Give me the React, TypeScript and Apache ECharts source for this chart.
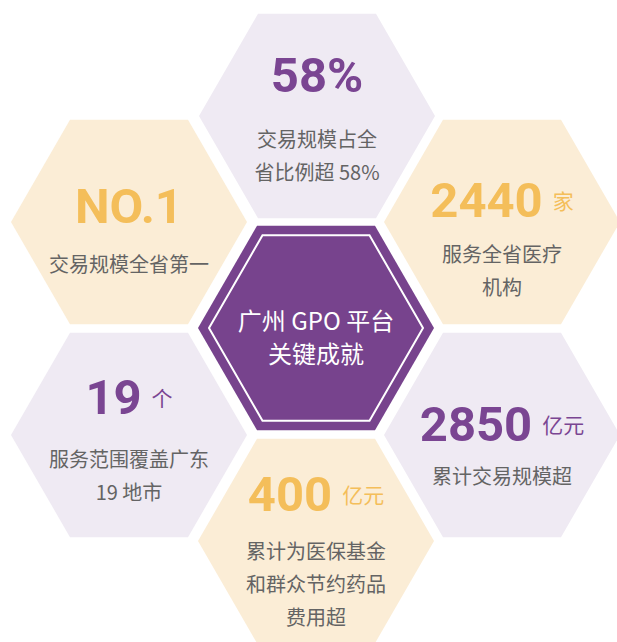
import React, { useEffect, useRef } from "react";
import * as echarts from "echarts";

// ---- data ----
const values = ["58%", "NO.1", "2440", "19", "2850", "400"];
const units = ["", "", "家", "个", "亿元", "亿元"];
const descriptions = [
  "交易规模占全\n省比例超 58%",
  "交易规模全省第一",
  "服务全省医疗\n机构",
  "服务范围覆盖广东\n19 地市",
  "累计交易规模超",
  "累计为医保基金\n和群众节约药品\n费用超",
];
const themes = ["purple", "yellow", "yellow", "purple", "purple", "yellow"];
const centerTitle = "广州 GPO 平台\n关键成就";

// ---- layout (honeycomb slots) ----
const slots = [
  { cx: 317, cy: 116, numDy: -41, descDy: 22 },
  { cx: 129, cy: 222, numDy: -16, descDy: 41 },
  { cx: 502, cy: 222, numDy: -22, descDy: 31 },
  { cx: 129, cy: 435, numDy: -38, descDy: 23 },
  { cx: 502, cy: 435, numDy: -11, descDy: 40 },
  { cx: 316, cy: 541, numDy: -47, descDy: 9 },
];
const CENTER = { cx: 316, cy: 328 };
const R = 118;

const palette: Record<string, { bg: string; fg: string }> = {
  purple: { bg: "#EFEAF3", fg: "#7A4592" },
  yellow: { bg: "#FBEDD6", fg: "#F4BE5A" },
};

function hexPoints(cx: number, cy: number, r: number): number[][] {
  const h = (r * Math.sqrt(3)) / 2;
  return [
    [cx - r, cy],
    [cx - r / 2, cy - h],
    [cx + r / 2, cy - h],
    [cx + r, cy],
    [cx + r / 2, cy + h],
    [cx - r / 2, cy + h],
  ];
}

const CJK = '"Noto Sans CJK SC", "Noto Sans", sans-serif';

export default function App() {
  const ref = useRef<HTMLDivElement>(null);
  useEffect(() => {
    if (!ref.current) return;
    const chart = echarts.init(ref.current, undefined, { renderer: "svg" });
    const elements: any[] = [];
    slots.forEach((s, i) => {
      const c = palette[themes[i]];
      elements.push({
        type: "polygon",
        shape: { points: hexPoints(s.cx, s.cy, R) },
        style: { fill: c.bg },
        silent: true,
      });
      const txt = units[i] ? `{n|${values[i]}}{u|${units[i]}}` : `{n|${values[i]}}`;
      elements.push({
        type: "text",
        x: s.cx,
        y: s.cy + s.numDy,
        style: {
          text: txt,
          align: "center",
          verticalAlign: "middle",
          rich: {
            n: {
              fontSize: 49,
              fontWeight: "bold",
              fontFamily: "Roboto, sans-serif",
              fill: c.fg,
            },
            u: {
              fontSize: 21,
              fontFamily: CJK,
              fill: c.fg,
              padding: [0, 0, 0, 10],
            },
          },
        },
      });
      const lines = descriptions[i].split("\n").length;
      const lh = 33;
      elements.push({
        type: "text",
        x: s.cx,
        y: s.cy + s.descDy + ((lines - 1) * lh) / 2,
        style: {
          text: descriptions[i],
          align: "center",
          verticalAlign: "middle",
          fontSize: 20,
          lineHeight: lh,
          fontFamily: CJK,
          fill: "#646464",
        },
      });
    });
    // center hexagon
    elements.push({
      type: "polygon",
      shape: { points: hexPoints(CENTER.cx, CENTER.cy, R) },
      style: { fill: "#77438D" },
      silent: true,
    });
    elements.push({
      type: "polygon",
      shape: { points: hexPoints(CENTER.cx, CENTER.cy, 107) },
      style: { fill: "none", stroke: "#FFFFFF", lineWidth: 2 },
      silent: true,
    });
    elements.push({
      type: "text",
      x: CENTER.cx,
      y: CENTER.cy + 8,
      style: {
        text: centerTitle,
        align: "center",
        verticalAlign: "middle",
        fontSize: 24,
        lineHeight: 33,
        fontFamily: CJK,
        fill: "#FFFFFF",
      },
    });
    chart.setOption({
      animation: false,
      backgroundColor: "#FFFFFF",
      graphic: { elements },
    });
    return () => chart.dispose();
  }, []);
  return (
    <div
      ref={ref}
      style={{ position: "fixed", left: 0, top: 0, width: 617, height: 642 }}
    />
  );
}
